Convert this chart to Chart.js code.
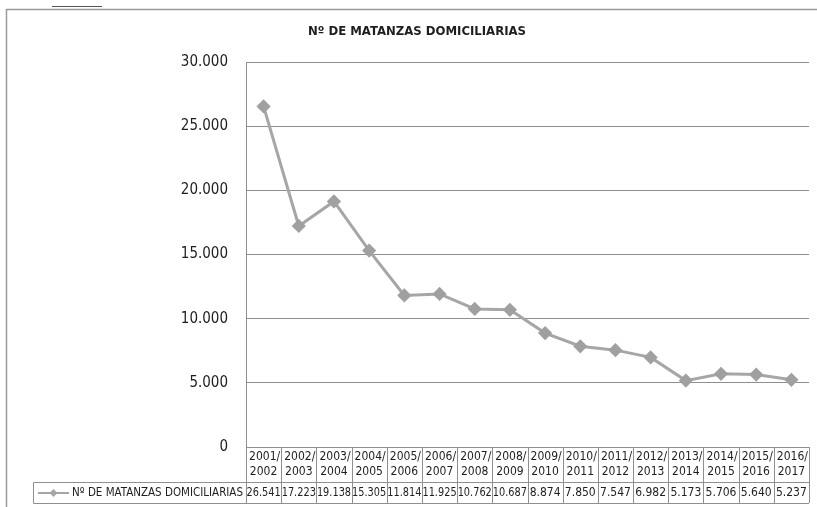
<!DOCTYPE html>
<html>
<head>
<meta charset="utf-8">
<script src="https://cdn.jsdelivr.net/npm/chart.js@4.4.0/dist/chart.umd.min.js"></script>
<style>
  html, body { margin: 0; padding: 0; background: #ffffff; }
  #wrap { position: relative; width: 817px; height: 507px; }
</style>
</head>
<body>
<div id="wrap"><canvas id="c" width="817" height="507"></canvas></div>
<script>
const chartTitle = "Nº DE MATANZAS DOMICILIARIAS";
const seriesName = "Nº DE MATANZAS DOMICILIARIAS";
const categories = ["2001/2002","2002/2003","2003/2004","2004/2005","2005/2006","2006/2007","2007/2008","2008/2009","2009/2010","2010/2011","2011/2012","2012/2013","2013/2014","2014/2015","2015/2016","2016/2017"];
const values = [26541, 17223, 19138, 15305, 11814, 11925, 10762, 10687, 8874, 7850, 7547, 6982, 5173, 5706, 5640, 5237];
const yTicks = [0, 5000, 10000, 15000, 20000, 25000, 30000];

const FONT = "'Liberation Sans Narrow', 'Arial Narrow', 'DejaVu Sans Condensed', sans-serif";
const TEXT = "#1e1e1e";
const GRID = "#8f8f8f";
const LINE = "#a6a6a6";

function fmt(v) {
  return String(Math.round(v)).replace(/\B(?=(\d{3})+(?!\d))/g, ".");
}

const framePlugin = {
  id: "frame",
  beforeDraw(chart) {
    const ctx = chart.ctx;
    ctx.save();
    ctx.fillStyle = "#ffffff";
    ctx.fillRect(0, 0, chart.width, chart.height);
    ctx.strokeStyle = "#9a9a9a";
    ctx.lineWidth = 1.5;
    ctx.beginPath();
    ctx.moveTo(6.5, chart.height);
    ctx.lineTo(6.5, 9.5);
    ctx.lineTo(chart.width, 9.5);
    ctx.stroke();
    ctx.strokeStyle = "#555";
    ctx.lineWidth = 1;
    ctx.beginPath();
    ctx.moveTo(52, 6.5);
    ctx.lineTo(102, 6.5);
    ctx.stroke();
    ctx.restore();
  },
  afterDraw(chart) {
    const ctx = chart.ctx;
    const x = chart.scales.x;
    const area = chart.chartArea;
    ctx.save();
    // title
    ctx.fillStyle = TEXT;
    ctx.font = "bold 13px " + FONT;
    ctx.textAlign = "center";
    ctx.textBaseline = "middle";
    ctx.fillText(chartTitle, 417, 32, 220);

    // data table
    const colW = x.getPixelForValue(1) - x.getPixelForValue(0);
    const top = area.bottom;
    const mid = top + 35;
    const bot = mid + 21;
    const tableLeft = 33.5;
    const right = x.getPixelForValue(categories.length - 1) + colW / 2;
    ctx.strokeStyle = GRID;
    ctx.lineWidth = 1;
    ctx.beginPath();
    for (let i = 0; i <= categories.length; i++) {
      const bx = Math.round(x.getPixelForValue(0) - colW / 2 + i * colW) + 0.5;
      ctx.moveTo(bx, top);
      ctx.lineTo(bx, bot);
    }
    ctx.moveTo(tableLeft, Math.round(mid) + 0.5);
    ctx.lineTo(right, Math.round(mid) + 0.5);
    ctx.moveTo(tableLeft, Math.round(bot) + 0.5);
    ctx.lineTo(right, Math.round(bot) + 0.5);
    ctx.moveTo(tableLeft, Math.round(mid) + 0.5);
    ctx.lineTo(tableLeft, Math.round(bot) + 0.5);
    ctx.stroke();

    ctx.fillStyle = TEXT;
    ctx.textAlign = "center";
    ctx.textBaseline = "middle";
    ctx.font = "12px " + FONT;
    categories.forEach((c, i) => {
      const cx = x.getPixelForValue(i);
      const parts = c.split("/");
      ctx.fillText(parts[0] + "/", cx + 1, top + 10, colW - 3);
      ctx.fillText(parts[1], cx, top + 25, colW - 3);
      ctx.fillText(fmt(values[i]), cx, mid + 11, colW - 1);
    });

    // legend cell
    const ly = mid + 11;
    ctx.strokeStyle = LINE;
    ctx.lineWidth = 2;
    ctx.beginPath();
    ctx.moveTo(38, ly);
    ctx.lineTo(69, ly);
    ctx.stroke();
    ctx.fillStyle = LINE;
    ctx.beginPath();
    ctx.moveTo(53.5, ly - 4);
    ctx.lineTo(57.5, ly);
    ctx.lineTo(53.5, ly + 4);
    ctx.lineTo(49.5, ly);
    ctx.closePath();
    ctx.fill();
    ctx.fillStyle = TEXT;
    ctx.textAlign = "left";
    ctx.font = "12.5px " + FONT;
    ctx.fillText(seriesName, 72, ly, 171);
    ctx.restore();
  }
};

new Chart(document.getElementById("c"), {
  type: "line",
  data: {
    labels: categories,
    datasets: [{
      label: seriesName,
      data: values,
      borderColor: LINE,
      backgroundColor: LINE,
      borderWidth: 3,
      pointStyle: "rectRot",
      pointRadius: 5,
      pointHoverRadius: 5,
      pointBackgroundColor: "#a0a0a0",
      pointBorderColor: "#a0a0a0",
      tension: 0
    }]
  },
  options: {
    responsive: false,
    animation: false,
    devicePixelRatio: 1,
    layout: { padding: { top: 62, bottom: 60, left: 0, right: 6 } },
    plugins: {
      legend: { display: false },
      title: { display: false },
      tooltip: { enabled: false }
    },
    scales: {
      x: {
        type: "category",
        display: false,
        offset: true
      },
      y: {
        min: 0,
        max: 30000,
        afterBuildTicks(scale) {
          scale.ticks = yTicks.map(v => ({ value: v }));
        },
        afterFit(scale) { scale.width = 246; },
        grid: { color: GRID, lineWidth: 1, drawTicks: false },
        border: { display: true, color: GRID, width: 1 },
        ticks: {
          padding: 18,
          color: TEXT,
          font: { family: FONT, size: 15 },
          callback: v => fmt(v)
        }
      }
    }
  },
  plugins: [framePlugin]
});
</script>
</body>
</html>
